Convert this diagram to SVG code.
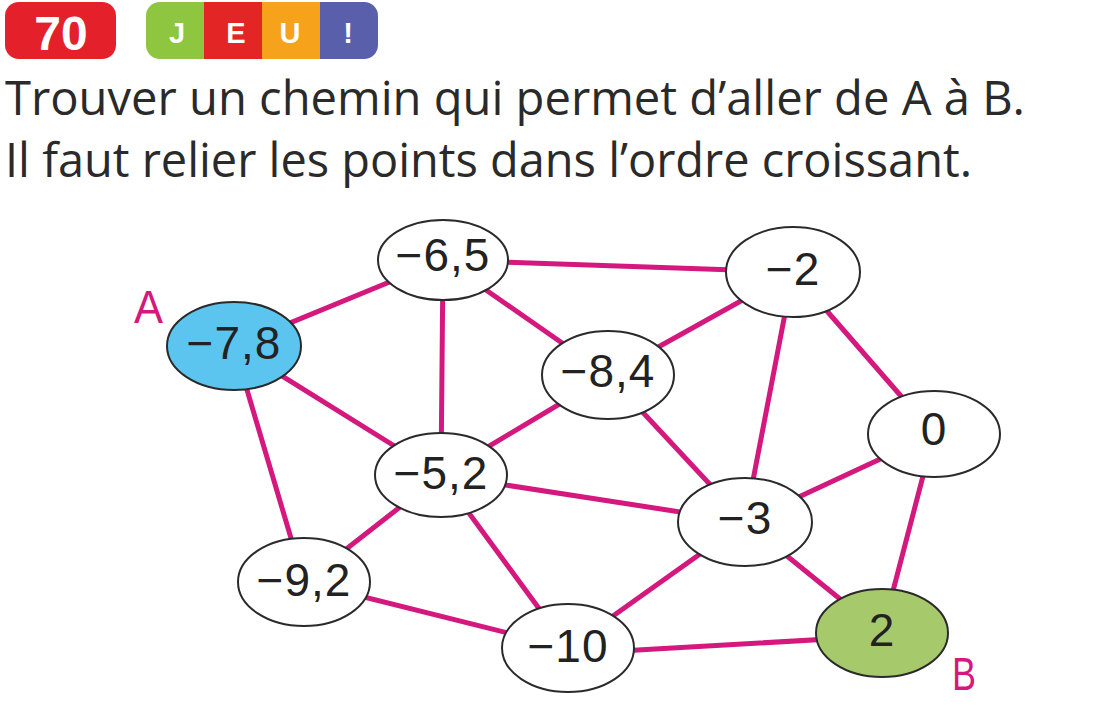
<svg xmlns="http://www.w3.org/2000/svg" width="1103" height="705" viewBox="0 0 1103 705">
  <defs>
    <clipPath id="badgeClip">
      <rect x="146" y="2" width="232" height="57" rx="14" ry="14"/>
    </clipPath>
    <style>
      .edge { stroke: #d4187e; stroke-width: 5; stroke-linecap: round; fill: none; }
      .node { fill: #ffffff; stroke: #2a2a2a; stroke-width: 2; }
      .lbl { font-family: "Liberation Sans", Arial, sans-serif; font-size: 46px; fill: #222222; text-anchor: middle; letter-spacing: 1px; }
      .title { font-family: "Open Sans", "Liberation Sans", sans-serif; font-size: 48px; fill: #2a2a2a; }
      .pt { font-family: "Liberation Sans", Arial, sans-serif; font-size: 46px; fill: #d4187e; }
      .badge { font-family: "Liberation Sans", Arial, sans-serif; font-weight: bold; fill: #ffffff; text-anchor: middle; }
    </style>
  </defs>

  <rect width="1103" height="705" fill="#ffffff"/>

  <g id="header">
    <rect x="5" y="2" width="111" height="57" rx="14" ry="14" fill="#e4202a"/>
    <text class="badge" x="61" y="50" font-size="48">70</text>
    <g clip-path="url(#badgeClip)">
      <rect x="146" y="2" width="58" height="57" fill="#8ec640"/>
      <rect x="204" y="2" width="58" height="57" fill="#e42526"/>
      <rect x="262" y="2" width="58" height="57" fill="#f6a21b"/>
      <rect x="320" y="2" width="58" height="57" fill="#5a5fab"/>
    </g>
    <text class="badge" x="177" y="43" font-size="29">J</text>
    <text class="badge" x="236" y="43" font-size="29">E</text>
    <text class="badge" x="290" y="43" font-size="29">U</text>
    <text class="badge" x="348" y="43" font-size="29">!</text>
  </g>

  <g id="instructions">
    <text class="title" x="5" y="115" textLength="1020" lengthAdjust="spacingAndGlyphs">Trouver un chemin qui permet d’aller de A à B.</text>
    <text class="title" x="5" y="177" textLength="967" lengthAdjust="spacingAndGlyphs">Il faut relier les points dans l’ordre croissant.</text>
  </g>

  <g id="connectors">
    <line class="edge" x1="234" y1="346" x2="443" y2="260"/>
    <line class="edge" x1="234" y1="346" x2="441" y2="475"/>
    <line class="edge" x1="234" y1="346" x2="304" y2="582"/>
    <line class="edge" x1="443" y1="260" x2="793" y2="272"/>
    <line class="edge" x1="443" y1="260" x2="608" y2="375"/>
    <line class="edge" x1="443" y1="260" x2="441" y2="475"/>
    <line class="edge" x1="793" y1="272" x2="608" y2="375"/>
    <line class="edge" x1="793" y1="272" x2="745" y2="522"/>
    <line class="edge" x1="793" y1="272" x2="934" y2="434"/>
    <line class="edge" x1="608" y1="375" x2="441" y2="475"/>
    <line class="edge" x1="608" y1="375" x2="745" y2="522"/>
    <line class="edge" x1="441" y1="475" x2="745" y2="522"/>
    <line class="edge" x1="441" y1="475" x2="304" y2="582"/>
    <line class="edge" x1="441" y1="475" x2="568" y2="648"/>
    <line class="edge" x1="934" y1="434" x2="745" y2="522"/>
    <line class="edge" x1="934" y1="434" x2="882" y2="633"/>
    <line class="edge" x1="745" y1="522" x2="568" y2="648"/>
    <line class="edge" x1="745" y1="522" x2="882" y2="633"/>
    <line class="edge" x1="304" y1="582" x2="568" y2="648"/>
    <line class="edge" x1="568" y1="654" x2="882" y2="636"/>
  </g>

  <g id="node-m6-5">
    <ellipse class="node" cx="443" cy="260" rx="65" ry="40"/>
    <text class="lbl" x="443" y="271">−6,5</text>
  </g>
  <g id="node-m7-8">
    <ellipse class="node" cx="234" cy="346" rx="67" ry="44" style="fill:#5bc4ef"/>
    <text class="lbl" x="234" y="359">−7,8</text>
  </g>
  <g id="node-m2">
    <ellipse class="node" cx="793" cy="272" rx="67" ry="45"/>
    <text class="lbl" x="793" y="285">−2</text>
  </g>
  <g id="node-m8-4">
    <ellipse class="node" cx="608" cy="375" rx="66" ry="44"/>
    <text class="lbl" x="608" y="387">−8,4</text>
  </g>
  <g id="node-0">
    <ellipse class="node" cx="934" cy="434" rx="66" ry="43"/>
    <text class="lbl" x="934" y="445">0</text>
  </g>
  <g id="node-m5-2">
    <ellipse class="node" cx="441" cy="475" rx="66" ry="42"/>
    <text class="lbl" x="441" y="489">−5,2</text>
  </g>
  <g id="node-m3">
    <ellipse class="node" cx="745" cy="522" rx="67" ry="44"/>
    <text class="lbl" x="745" y="534">−3</text>
  </g>
  <g id="node-m9-2">
    <ellipse class="node" cx="304" cy="582" rx="66" ry="44"/>
    <text class="lbl" x="304" y="596">−9,2</text>
  </g>
  <g id="node-m10">
    <ellipse class="node" cx="568" cy="648" rx="66" ry="44"/>
    <text class="lbl" x="568" y="662">−10</text>
  </g>
  <g id="node-2">
    <ellipse class="node" cx="882" cy="633" rx="66" ry="44" style="fill:#a6ca6b"/>
    <text class="lbl" x="882" y="646">2</text>
  </g>

  <g id="labels">
    <text class="pt" x="134" y="323" textLength="29" lengthAdjust="spacingAndGlyphs">A</text>
    <text class="pt" x="952" y="690" font-size="44" textLength="24" lengthAdjust="spacingAndGlyphs">B</text>
  </g>
</svg>
